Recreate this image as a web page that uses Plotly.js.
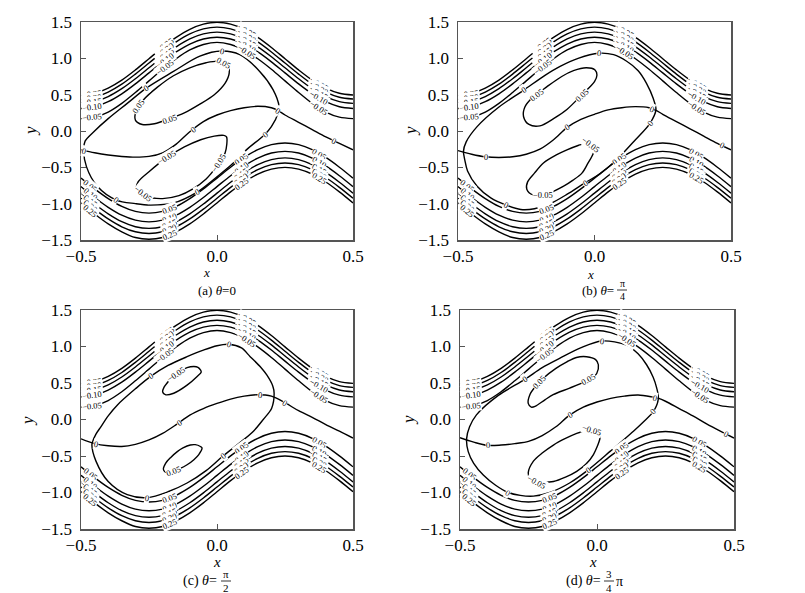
<!DOCTYPE html>
<html><head><meta charset="utf-8">
<script src="https://cdn.plot.ly/plotly-3.0.1.min.js"></script>
<style>html,body{margin:0;padding:0;background:#fff}#chart{width:805px;height:593px}</style>
</head><body><div id="chart"></div><script>
// ---------- data ----------
const xWave = [-0.5,-0.45,-0.4,-0.35,-0.3,-0.25,-0.2,-0.15,-0.1,-0.05,0,0.05,0.1,0.15,0.2,0.25,0.3,0.35,0.4,0.45,0.5];
// upper family (psi = -0.25 ... -0.05), same in every panel
const upperLabels = ["−0.25","−0.20","−0.15","−0.10","−0.05"];
const upperM025 = [0.495,0.519,0.591,0.701,0.841,0.995,1.15,1.289,1.4,1.471,1.495,1.471,1.4,1.289,1.15,0.995,0.841,0.701,0.591,0.519,0.495];
const upperM020 = [0.44,0.464,0.535,0.644,0.783,0.935,1.088,1.226,1.336,1.406,1.43,1.406,1.336,1.226,1.088,0.935,0.783,0.644,0.535,0.464,0.44];
const upperM015 = [0.38,0.404,0.474,0.582,0.719,0.87,1.022,1.158,1.267,1.336,1.36,1.336,1.267,1.158,1.022,0.87,0.719,0.582,0.474,0.404,0.38];
const upperM010 = [0.31,0.334,0.404,0.512,0.649,0.8,0.952,1.088,1.197,1.266,1.29,1.266,1.197,1.088,0.952,0.8,0.649,0.512,0.404,0.334,0.31];
const upperM005 = [0.17,0.19,0.26,0.38,0.53,0.69,0.85,0.995,1.115,1.19,1.22,1.19,1.115,0.995,0.85,0.69,0.53,0.38,0.26,0.19,0.17];
// lower family (psi = 0.05 ... 0.25)
const lowerLabels = ["0.05","0.10","0.15","0.20","0.25"];
const lowerP005 = [-0.648,-0.797,-0.931,-1.038,-1.107,-1.13,-1.107,-1.038,-0.931,-0.797,-0.648,-0.498,-0.364,-0.257,-0.188,-0.165,-0.188,-0.257,-0.364,-0.498,-0.648];
const lowerP010 = [-0.765,-0.915,-1.05,-1.158,-1.227,-1.25,-1.227,-1.158,-1.05,-0.915,-0.765,-0.615,-0.48,-0.372,-0.303,-0.28,-0.303,-0.372,-0.48,-0.615,-0.765];
const lowerP015 = [-0.855,-1.005,-1.14,-1.248,-1.317,-1.34,-1.317,-1.248,-1.14,-1.005,-0.855,-0.705,-0.57,-0.462,-0.393,-0.37,-0.393,-0.462,-0.57,-0.705,-0.855];
const lowerP020 = [-0.925,-1.075,-1.21,-1.318,-1.387,-1.41,-1.387,-1.318,-1.21,-1.075,-0.925,-0.775,-0.64,-0.532,-0.463,-0.44,-0.463,-0.532,-0.64,-0.775,-0.925];
const lowerP025 = [-0.99,-1.142,-1.278,-1.387,-1.466,-1.49,-1.466,-1.387,-1.278,-1.142,-0.99,-0.838,-0.702,-0.593,-0.524,-0.5,-0.524,-0.593,-0.702,-0.838,-0.99];

// (a) theta = 0
const sepX_a = [-0.5,-0.45,-0.4,-0.35,-0.3,-0.25,-0.2,-0.15,-0.1,-0.05,0,0.05,0.1,0.15,0.2,0.225,0.25,0.3,0.35,0.4,0.45,0.5];
const sepY_a = [-0.26,-0.3,-0.33,-0.35,-0.36,-0.35,-0.3,-0.18,-0.01,0.13,0.22,0.28,0.32,0.34,0.32,0.28,0.22,0.12,0.02,-0.08,-0.17,-0.26];
const loopX_a = [-0.49,-0.485,-0.45,-0.40,-0.33,-0.26,-0.16,-0.063,0.017,0.084,0.157,0.206,0.228,0.225,0.2,0.175,0.108,0.06,-0.01,-0.073,-0.16,-0.247,-0.30,-0.37,-0.44,-0.48,-0.49];
const loopY_a = [-0.26,-0.14,0.0,0.17,0.38,0.59,0.82,1.03,1.10,1.05,0.82,0.57,0.34,0.25,0.06,-0.05,-0.26,-0.44,-0.66,-0.84,-0.99,-1.02,-1.0,-0.95,-0.76,-0.49,-0.26];
const topX_a = [-0.30,-0.295,-0.27,-0.22,-0.16,-0.10,-0.04,0.01,0.04,0.045,0.03,-0.01,-0.063,-0.12,-0.173,-0.23,-0.275,-0.30];
const topY_a = [0.15,0.30,0.43,0.60,0.76,0.87,0.94,0.96,0.90,0.80,0.66,0.50,0.37,0.25,0.17,0.10,0.09,0.15];
const botX_a = [0.035,0.03,0.0,-0.04,-0.09,-0.14,-0.20,-0.26,-0.295,-0.29,-0.25,-0.19,-0.12,-0.06,-0.01,0.025,0.035];
const botY_a = [-0.08,-0.30,-0.48,-0.66,-0.80,-0.89,-0.93,-0.90,-0.80,-0.70,-0.56,-0.38,-0.22,-0.12,-0.07,-0.06,-0.08];

// (b) theta = pi/4
const sepX_b = [-0.5,-0.45,-0.4,-0.35,-0.3,-0.25,-0.2,-0.15,-0.1,-0.05,0,0.05,0.1,0.15,0.2,0.225,0.25,0.3,0.35,0.4,0.45,0.5];
const sepY_b = [-0.27,-0.32,-0.355,-0.365,-0.355,-0.32,-0.25,-0.12,0.05,0.16,0.23,0.29,0.32,0.335,0.32,0.285,0.23,0.13,0.03,-0.07,-0.17,-0.26];
const loopX_b = [-0.48,-0.47,-0.43,-0.35,-0.26,-0.18,-0.126,-0.06,0.015,0.07,0.118,0.16,0.19,0.215,0.225,0.204,0.15,0.08,0.02,-0.034,-0.10,-0.162,-0.22,-0.27,-0.323,-0.38,-0.43,-0.465,-0.475,-0.48];
const loopY_b = [-0.28,-0.15,0.06,0.33,0.56,0.77,0.89,1.0,1.07,1.05,0.96,0.83,0.66,0.45,0.29,0.11,-0.12,-0.40,-0.59,-0.71,-0.87,-1.0,-1.07,-1.08,-1.02,-0.92,-0.76,-0.55,-0.40,-0.28];
const topX_b = [-0.26,-0.255,-0.23,-0.174,-0.12,-0.077,-0.03,0.002,0.009,0.0,-0.046,-0.10,-0.15,-0.20,-0.24,-0.26];
const topY_b = [0.2,0.33,0.45,0.61,0.75,0.83,0.87,0.84,0.77,0.68,0.50,0.30,0.17,0.07,0.09,0.2];
const botX_b = [-0.004,-0.004,-0.025,-0.046,-0.08,-0.113,-0.15,-0.187,-0.225,-0.248,-0.245,-0.22,-0.187,-0.14,-0.101,-0.06,-0.034,-0.015,-0.004];
const botY_b = [-0.21,-0.30,-0.45,-0.58,-0.68,-0.76,-0.83,-0.88,-0.88,-0.80,-0.70,-0.58,-0.44,-0.33,-0.26,-0.20,-0.17,-0.18,-0.21];

// (c) theta = pi/2
const sepX_c = [-0.5,-0.45,-0.4,-0.35,-0.3,-0.25,-0.2,-0.15,-0.1,-0.05,0,0.05,0.1,0.15,0.2,0.25,0.3,0.35,0.4,0.45,0.5];
const sepY_c = [-0.265,-0.33,-0.36,-0.37,-0.34,-0.28,-0.19,-0.07,0.06,0.15,0.22,0.28,0.32,0.34,0.32,0.23,0.12,0.03,-0.07,-0.16,-0.255];
const loopX_c = [-0.457,-0.445,-0.427,-0.40,-0.366,-0.30,-0.244,-0.18,-0.11,-0.05,0.0,0.043,0.09,0.122,0.16,0.183,0.205,0.21,0.201,0.17,0.134,0.08,0.022,-0.04,-0.11,-0.18,-0.256,-0.33,-0.40,-0.445,-0.46,-0.457];
const loopY_c = [-0.30,-0.20,-0.10,0.05,0.20,0.42,0.59,0.74,0.86,0.95,1.01,1.03,0.98,0.86,0.72,0.61,0.46,0.36,0.155,0.0,-0.16,-0.33,-0.5,-0.70,-0.87,-0.99,-1.07,-1.03,-0.85,-0.57,-0.35,-0.30];
const topX_c = [-0.061,-0.07,-0.085,-0.11,-0.134,-0.16,-0.177,-0.195,-0.2,-0.19,-0.159,-0.11,-0.073,-0.058,-0.061];
const topY_c = [0.68,0.715,0.725,0.71,0.665,0.60,0.53,0.44,0.38,0.34,0.36,0.47,0.59,0.65,0.68];
const botX_c = [-0.055,-0.061,-0.08,-0.098,-0.125,-0.146,-0.17,-0.189,-0.197,-0.19,-0.165,-0.135,-0.11,-0.085,-0.067,-0.055];
const botY_c = [-0.39,-0.37,-0.345,-0.35,-0.39,-0.44,-0.52,-0.60,-0.68,-0.72,-0.71,-0.67,-0.62,-0.55,-0.48,-0.39];

// (d) theta = 3pi/4
const sepX_d = [-0.5,-0.45,-0.4,-0.35,-0.3,-0.25,-0.2,-0.15,-0.1,-0.05,0,0.05,0.1,0.15,0.2,0.225,0.25,0.3,0.35,0.4,0.45,0.5];
const sepY_d = [-0.25,-0.31,-0.355,-0.35,-0.33,-0.30,-0.22,-0.10,0.06,0.17,0.24,0.29,0.32,0.335,0.31,0.29,0.25,0.15,0.05,-0.06,-0.16,-0.255];
const loopX_d = [-0.476,-0.465,-0.44,-0.36,-0.263,-0.20,-0.135,-0.06,0.017,0.108,0.15,0.181,0.205,0.218,0.224,0.206,0.17,0.133,0.05,-0.032,-0.10,-0.172,-0.232,-0.28,-0.324,-0.37,-0.415,-0.45,-0.47,-0.476];
const loopY_d = [-0.265,-0.10,0.064,0.33,0.55,0.71,0.84,0.98,1.076,1.02,0.90,0.75,0.58,0.43,0.29,0.11,-0.03,-0.16,-0.43,-0.69,-0.87,-1.0,-1.05,-1.04,-1.0,-0.90,-0.76,-0.60,-0.44,-0.265];
const topX_d = [0.005,-0.005,-0.038,-0.075,-0.11,-0.15,-0.196,-0.225,-0.245,-0.251,-0.24,-0.226,-0.19,-0.16,-0.10,-0.044,-0.015,-0.001,0.005];
const topY_d = [0.75,0.82,0.86,0.85,0.79,0.70,0.565,0.45,0.34,0.22,0.17,0.18,0.27,0.34,0.43,0.52,0.58,0.63,0.75];
const botX_d = [-0.001,0.01,0.011,-0.013,-0.04,-0.074,-0.115,-0.159,-0.20,-0.22,-0.245,-0.251,-0.232,-0.20,-0.159,-0.115,-0.074,-0.04,-0.019,-0.001];
const botY_d = [-0.16,-0.20,-0.255,-0.48,-0.61,-0.71,-0.79,-0.85,-0.86,-0.85,-0.80,-0.73,-0.57,-0.46,-0.35,-0.26,-0.19,-0.15,-0.14,-0.16];

const xTickVals = [-0.5,0,0.5];
const xTickText = ["−0.5","0.0","0.5"];
const yTickVals = [-1.5,-1,-0.5,0,0.5,1,1.5];
const yTickText = ["−1.5","−1.0","−0.5","0.0","0.5","1.0","1.5"];

// ---------- build ----------
const upperSet = [upperM025,upperM020,upperM015,upperM010,upperM005];
const lowerSet = [lowerP005,lowerP010,lowerP015,lowerP020,lowerP025];
const panels = [
  {xa:'x', ya:'y', sx:sepX_a, sy:sepY_a, lx:loopX_a, ly:loopY_a, tx:topX_a, ty:topY_a, bx:botX_a, by:botY_a,
   sepLab:[-0.488,-0.09,0.225,0.43], loopLab:[5,8,15,19,23], topText:"0.05", topLab:[1.3,7.5,14], botText:"−0.05", botLab:[1.8,7.3,11.1]},
  {xa:'x2', ya:'y2', sx:sepX_b, sy:sepY_b, lx:loopX_b, ly:loopY_b, tx:topX_b, ty:topY_b, bx:botX_b, by:botY_b,
   sepLab:[-0.396,-0.099,0.21,0.466], loopLab:[4,8,15,19,24], topText:"0.05", topLab:[2.3,10], botText:"−0.05", botLab:[7,17.3]},
  {xa:'x3', ya:'y3', sx:sepX_c, sy:sepY_c, lx:loopX_c, ly:loopY_c, tx:topX_c, ty:topY_c, bx:botX_c, by:botY_c,
   sepLab:[-0.445,-0.14,0.159,0.25], loopLab:[6,11,22,26], topText:"−0.05", topLab:[4.6], botText:"0.05", botLab:[10.2]},
  {xa:'x4', ya:'y4', sx:sepX_d, sy:sepY_d, lx:loopX_d, ly:loopY_d, tx:topX_d, ty:topY_d, bx:botX_d, by:botY_d,
   sepLab:[-0.397,-0.099,0.212,0.471], loopLab:[4,8,15,19,24], topText:"0.05", topLab:[6.5,15.5], botText:"−0.05", botLab:[9,18]}
];
const upperClusterIdx = [0.8,6.2,12.2,17.5];
const lowerClusterIdx = [0.7,6.5,11.8,17.5];

const SERIF = 'Liberation Serif';
const traces = [];
const ann = [];
const LW = 1.4;
function line(xs, ys, xa, ya){
  traces.push({type:'scatter', mode:'lines', x:xs, y:ys, xaxis:xa, yaxis:ya,
    line:{color:'#000', width:LW, shape:'spline', smoothing:0.9}, hoverinfo:'skip', showlegend:false});
}
function label(xs, ys, t, text, xa, ya){
  const n = xs.length;
  let i = Math.min(Math.max(Math.floor(t),0), n-2);
  const f = t - i;
  const x = xs[i] + (xs[i+1]-xs[i])*f;
  const y = ys[i] + (ys[i+1]-ys[i])*f;
  const dx = (xs[i+1]-xs[i])*272, dy = -(ys[i+1]-ys[i])*72.7;
  let a = Math.atan2(dy, dx)*180/Math.PI;
  if (a > 90) a -= 180; if (a < -90) a += 180;
  ann.push({xref:xa, yref:ya, x:x, y:y, text:text, textangle:a, showarrow:false,
    font:{family:SERIF, size:8.5, color:'#000'}, bgcolor:'#fff', borderpad:0});
}
function idxOfX(xs, xv){
  for (let i=0;i<xs.length-1;i++){ if (xv>=xs[i] && xv<=xs[i+1]) return i + (xv-xs[i])/(xs[i+1]-xs[i]); }
  return 0;
}
panels.forEach(p=>{
  upperSet.forEach(ys=>line(xWave, ys, p.xa, p.ya));
  lowerSet.forEach(ys=>line(xWave, ys, p.xa, p.ya));
  line(p.sx, p.sy, p.xa, p.ya);
  line(p.lx, p.ly, p.xa, p.ya);
  line(p.tx, p.ty, p.xa, p.ya);
  line(p.bx, p.by, p.xa, p.ya);
  upperClusterIdx.forEach(t=>upperSet.forEach((ys,k)=>label(xWave, ys, t, upperLabels[k], p.xa, p.ya)));
  lowerClusterIdx.forEach(t=>lowerSet.forEach((ys,k)=>label(xWave, ys, t, lowerLabels[k], p.xa, p.ya)));
  p.sepLab.forEach(xv=>label(p.sx, p.sy, idxOfX(p.sx, xv), "0", p.xa, p.ya));
  p.loopLab.forEach(t=>label(p.lx, p.ly, t, "0", p.xa, p.ya));
  p.topLab.forEach(t=>label(p.tx, p.ty, t, p.topText, p.xa, p.ya));
  p.botLab.forEach(t=>label(p.bx, p.by, t, p.botText, p.xa, p.ya));
});

// captions and axis titles (pixel positions -> paper)
const W = 805, H = 593;
function txt(px, py, text, size, xanchor, extra){
  ann.push(Object.assign({xref:'paper', yref:'paper', x:px/W, y:1-py/H, text:text, showarrow:false,
    xanchor:xanchor||'center', yanchor:'middle', font:{family:SERIF, size:size, color:'#000'}}, extra||{}));
}
// x titles
txt(207, 273, '<i>x</i>', 13); txt(590, 274, '<i>x</i>', 13);
txt(217, 562, '<i>x</i>', 15); txt(593, 562, '<i>x</i>', 15);
// y titles
txt(30, 131, '<i>y</i>', 17, 'center', {textangle:-90});
txt(410, 131, '<i>y</i>', 17, 'center', {textangle:-90});
txt(27, 421, '<i>y</i>', 17, 'center', {textangle:-90});
txt(408, 420, '<i>y</i>', 17, 'center', {textangle:-90});
// captions
txt(217, 290, '(a) <i>θ</i>=0', 13);
txt(616, 290, '(b) <i>θ</i>=', 13, 'right');
txt(622, 283.5, 'π', 10); txt(622, 296, '4', 10);
txt(219, 581, '(c) <i>θ</i>=', 14, 'right');
txt(226, 574, 'π', 11); txt(226, 588, '2', 11);
txt(603, 581, '(d) <i>θ</i>=', 14, 'right');
txt(609, 574, '3', 11); txt(609, 588, '4', 11);
txt(614, 581, 'π', 14, 'left');
const shapes = [
  {type:'line', xref:'paper', yref:'paper', x0:617/W, x1:627/W, y0:1-290/H, y1:1-290/H, line:{color:'#000', width:0.8}},
  {type:'line', xref:'paper', yref:'paper', x0:221/W, x1:231/W, y0:1-581/H, y1:1-581/H, line:{color:'#000', width:0.8}},
  {type:'line', xref:'paper', yref:'paper', x0:604/W, x1:614/W, y0:1-581/H, y1:1-581/H, line:{color:'#000', width:0.8}}
];

function xax(domain, anchor){
  return {domain:domain, anchor:anchor, range:[-0.5,0.5], tickvals:xTickVals, ticktext:xTickText,
    showline:true, mirror:true, linecolor:'#555', linewidth:1.5, ticks:'inside', ticklen:5, tickcolor:'#555',
    showgrid:false, zeroline:false, tickfont:{family:SERIF, size:17, color:'#000'}, ticklabelstandoff:0, fixedrange:true};
}
function yax(domain, anchor){
  return {domain:domain, anchor:anchor, range:[-1.5,1.5], tickvals:yTickVals, ticktext:yTickText,
    showline:true, mirror:true, linecolor:'#555', linewidth:1.5, ticks:'inside', ticklen:5, tickcolor:'#555',
    showgrid:false, zeroline:false, tickfont:{family:SERIF, size:17, color:'#000'}, ticklabelstandoff:4, fixedrange:true};
}
const topDom = [1-240/H, 1-22/H], botDom = [1-529/H, 1-310/H];
const layout = {
  width:W, height:H, margin:{l:0,r:0,t:0,b:0}, paper_bgcolor:'#fff', plot_bgcolor:'#fff', showlegend:false,
  font:{family:SERIF},
  xaxis: xax([81/W,353/W],'y'),  yaxis: yax(topDom,'x'),
  xaxis2:xax([458/W,731/W],'y2'), yaxis2:yax(topDom,'x2'),
  xaxis3:xax([81/W,353/W],'y3'), yaxis3:yax(botDom,'x3'),
  xaxis4:xax([460/W,734/W],'y4'), yaxis4:yax(botDom,'x4'),
  annotations: ann, shapes: shapes
};
Plotly.newPlot('chart', traces, layout, {staticPlot:true, displayModeBar:false});
</script></body></html>
